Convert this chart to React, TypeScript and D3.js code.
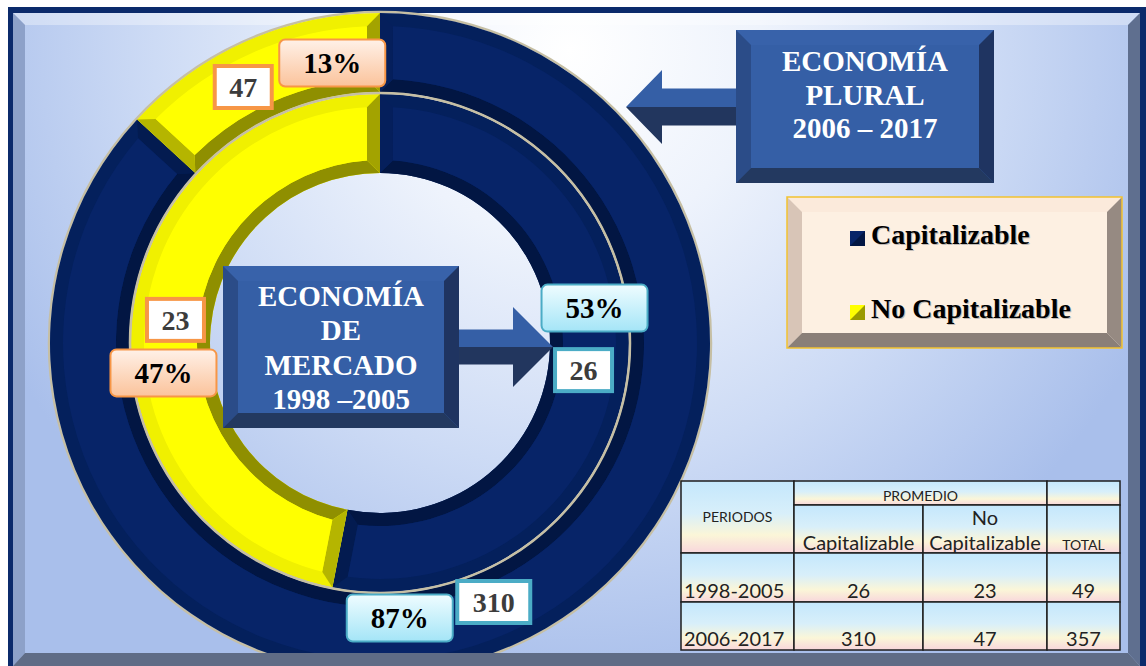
import React from "react";
import * as d3 from "d3";

// data
const periods = ["1998-2005", "2006-2017"];
const categories = ["Capitalizable", "No Capitalizable"];
const capitalizable = [26, 310];
const noCapitalizable = [23, 47];
const periodTitles = [
  ["ECONOMÍA", "DE", "MERCADO", "1998 –2005"],
  ["ECONOMÍA", "PLURAL", "2006 – 2017"],
];
const tableHead = ["PERIODOS", "PROMEDIO", "TOTAL"];

const W = 1146;
const H = 666;
const cx = 380;
const cy = 343;
// ring radii, inner ring = first period
const rings = [
  { r0: 170, r1: 249 },
  { r0: 251, r1: 330 },
];
const BEV = 13;

const palettes = [
  { face: "#072468", outer: "#04205c", inner: "#021643", start: "#051f5c", end: "#031b50", stroke: "#4bacc6" },
  { face: "#ffff00", outer: "#f0f000", inner: "#8f8f00", start: "#b5b500", end: "#a3a300", stroke: "#f79646" },
];

// label layout: [period][category] nudges for value box, offset of pct box from value box
const valueNudge = [
  [[-5, 7], [4, -3]],
  [[-3, -7], [-20, 10]],
];
const pctOffset = [
  [[11, -62], [-12, 53]],
  [[-94, 16], [89, -24]],
];

const pt = (r: number, a: number): [number, number] => [
  cx + r * Math.sin(a),
  cy - r * Math.cos(a),
];
const sa = (a: number) => a - Math.PI / 2;

function band(ro: number, ri: number, bo0: number, bo1: number, bi0: number, bi1: number) {
  // ring sector with separate angles on the outer and inner arc
  const p = d3.path();
  p.moveTo(...pt(ro, bo0));
  p.arc(cx, cy, ro, sa(bo0), sa(bo1), false);
  p.lineTo(...pt(ri, bi1));
  p.arc(cx, cy, ri, sa(bi1), sa(bi0), true);
  p.closePath();
  return p.toString();
}

function ringPieces(a0: number, a1: number, r0: number, r1: number, b: number) {
  const ro = r1 - b;
  const ri = r0 + b;
  const ao0 = a0 + b / ro, ao1 = a1 - b / ro;
  const ai0 = a0 + b / ri, ai1 = a1 - b / ri;
  const poly = (ps: [number, number][]) => "M" + ps.map((p) => p.join(",")).join("L") + "Z";
  return {
    full: band(r1, r0, a0, a1, a0, a1),
    inner: band(r0, ri, a0, a1, ai0, ai1),
    start: poly([pt(r0, a0), pt(r1, a0), pt(ro, ao0), pt(ri, ai0)]),
    end: poly([pt(r0, a1), pt(r1, a1), pt(ro, ao1), pt(ri, ai1)]),
    face: band(ro, ri, ao0, ao1, ai0, ai1),
  };
}

type BevelColors = { face: string; top: string; left: string; right: string; bottom: string };

const BevelBox: React.FC<{ x: number; y: number; w: number; h: number; b: number; c: BevelColors; stroke?: string }> = ({
  x, y, w, h, b, c, stroke,
}) => {
  const x2 = x + w, y2 = y + h;
  const poly = (ps: number[][]) => ps.map((p) => p.join(",")).join(" ");
  return (
    <g>
      <rect x={x} y={y} width={w} height={h} fill={c.face} />
      <polygon points={poly([[x, y], [x2, y], [x2 - b, y + b], [x + b, y + b]])} fill={c.top} />
      <polygon points={poly([[x, y], [x + b, y + b], [x + b, y2 - b], [x, y2]])} fill={c.left} />
      <polygon points={poly([[x2, y], [x2, y2], [x2 - b, y2 - b], [x2 - b, y + b]])} fill={c.right} />
      <polygon points={poly([[x, y2], [x + b, y2 - b], [x2 - b, y2 - b], [x2, y2]])} fill={c.bottom} />
      {stroke && <rect x={x} y={y} width={w} height={h} fill="none" stroke={stroke} strokeWidth={1.5} />}
    </g>
  );
};

const blueBox: BevelColors = { face: "#355fa6", top: "#3862aa", left: "#2b4c88", right: "#1f3461", bottom: "#233960" };
const serif = "'Liberation Serif', 'Times New Roman', serif";

const App: React.FC = () => {
  const pie = d3.pie<number>().sort(null).value((d) => d);
  const series = periods.map((_, i) => [capitalizable[i], noCapitalizable[i]]);
  const totals = series.map((s) => d3.sum(s));

  // table layout
  const tx = [681, 794, 923, 1047, 1120];
  const ty = [481, 505, 553, 602, 650];
  const tFont = "Lato, 'Open Sans', sans-serif";

  const leftArrow = (() => {
    const tip = 626, base = 662, end = 740, my = 107, sh = 18.5, hh = 37;
    return {
      top: `${tip},${my} ${base},${my - hh} ${base},${my - sh} ${end},${my - sh} ${end},${my}`,
      bottom: `${tip},${my} ${base},${my + hh} ${base},${my + sh} ${end},${my + sh} ${end},${my}`,
    };
  })();
  const rightArrow = (() => {
    const tip = 553, base = 513, st = 455, my = 347, sh = 17.5, hh = 40;
    return {
      top: `${tip},${my} ${base},${my - hh} ${base},${my - sh} ${st},${my - sh} ${st},${my}`,
      bottom: `${tip},${my} ${base},${my + hh} ${base},${my + sh} ${st},${my + sh} ${st},${my}`,
    };
  })();

  return (
    <svg width={W} height={H} style={{ position: "absolute", left: 0, top: 0 }}>
      <defs>
        <radialGradient id="bg" gradientUnits="userSpaceOnUse" cx={570} cy={50} r={640}>
          <stop offset="0" stopColor="#ffffff" />
          <stop offset="0.3" stopColor="#eef3fc" />
          <stop offset="0.65" stopColor="#cddbf5" />
          <stop offset="1" stopColor="#a9bfeb" />
        </radialGradient>
        <linearGradient id="pctOrange" x1="0" y1="0" x2="0" y2="1">
          <stop offset="0" stopColor="#fff1e8" />
          <stop offset="1" stopColor="#fbc39b" />
        </linearGradient>
        <linearGradient id="pctCyan" x1="0" y1="0" x2="0" y2="1">
          <stop offset="0" stopColor="#effcff" />
          <stop offset="1" stopColor="#a4e5f7" />
        </linearGradient>
        <linearGradient id="cell" x1="0" y1="0" x2="0" y2="1">
          <stop offset="0" stopColor="#c4e7fc" />
          <stop offset="0.45" stopColor="#d8effa" />
          <stop offset="0.75" stopColor="#fbf6d8" />
          <stop offset="1" stopColor="#f8d6dc" />
        </linearGradient>
      </defs>

      {/* frame */}
      <rect x={8} y={7} width={W - 8} height={H - 7} fill="#0b2a6b" />
      <rect x={13} y={13} width={1127} height={H - 13} fill="url(#bg)" />
      <polygon points="13,13 1140,13 1128,25 25,25" fill="#ffffff" opacity={0.35} />
      <polygon points="13,13 25,25 25,653 13,666" fill="#8da1c9" />
      <polygon points="1140,13 1140,666 1128,653 1128,25" fill="#5f6f8f" />

      {/* rings */}
      <circle cx={cx} cy={cy} r={331} fill="none" stroke="#c6bfa4" strokeWidth={2.5} />
      {series.map((vals, i) => {
        const { r0, r1 } = rings[i];
        return (
          <g key={periods[i]}>
            {pie(vals).map((s, j) => {
              const p = ringPieces(s.startAngle, s.endAngle, r0, r1, BEV);
              const c = palettes[j];
              return (
                <g key={categories[j]}>
                  <path d={p.full} fill={c.outer} />
                  <path d={p.inner} fill={c.inner} />
                  <path d={p.start} fill={c.start} />
                  <path d={p.end} fill={c.end} />
                  <path d={p.face} fill={c.face} />
                </g>
              );
            })}
          </g>
        );
      })}
      <circle cx={cx} cy={cy} r={250} fill="none" stroke="#c6bfa4" strokeWidth={2.5} />

      {/* period titles + arrows */}
      <polygon points={rightArrow.top} fill="#355fa6" />
      <polygon points={rightArrow.bottom} fill="#22365e" />
      <BevelBox x={223} y={266} w={236} h={162} b={15} c={blueBox} />
      {periodTitles[0].map((t, k) => (
        <text key={k} x={341} y={306 + k * 34.3} textAnchor="middle" fill="#fff" fontFamily={serif} fontWeight="bold" fontSize={29}>
          {t}
        </text>
      ))}
      <polygon points={leftArrow.top} fill="#355fa6" />
      <polygon points={leftArrow.bottom} fill="#22365e" />
      <BevelBox x={736} y={30} w={258} h={153} b={15} c={blueBox} />
      {periodTitles[1].map((t, k) => (
        <text key={k} x={865} y={71 + k * 33.5} textAnchor="middle" fill="#fff" fontFamily={serif} fontWeight="bold" fontSize={29}>
          {t}
        </text>
      ))}

      {/* slice labels */}
      {series.map((vals, i) => {
        const { r0, r1 } = rings[i];
        const arc = d3.arc<d3.PieArcDatum<number>>().innerRadius(r0).outerRadius(r1);
        return pie(vals).map((s, j) => {
          const [x0, y0] = arc.centroid(s);
          const vx = cx + x0 + valueNudge[i][j][0];
          const vy = cy + y0 + valueNudge[i][j][1];
          const px = vx + pctOffset[i][j][0];
          const py = vy + pctOffset[i][j][1];
          const vTxt = String(vals[j]);
          const vw = vTxt.length * 16 + 25;
          const pTxt = `${Math.round((vals[j] / totals[i]) * 100)}%`;
          const pw = 106;
          const stroke = palettes[j].stroke;
          return (
            <g key={`${i}-${j}`}>
              <rect x={px - pw / 2} y={py - 23.5} width={pw} height={47} rx={6} fill={j === 0 ? "url(#pctCyan)" : "url(#pctOrange)"} stroke={stroke} strokeWidth={2} />
              <text x={px} y={py + 10} textAnchor="middle" fontFamily={serif} fontWeight="bold" fontSize={29} fill="#000">
                {pTxt}
              </text>
              <rect x={vx - vw / 2} y={vy - 21} width={vw} height={42} fill="#fff" stroke={stroke} strokeWidth={4} />
              <text x={vx} y={vy + 10} textAnchor="middle" fontFamily={serif} fontWeight="bold" fontSize={28} fill="#3c3c3c">
                {vTxt}
              </text>
            </g>
          );
        });
      })}

      {/* legend */}
      <BevelBox
        x={787}
        y={197}
        w={335}
        h={151}
        b={15}
        c={{ face: "#fdf0e2", top: "#fbeadb", left: "#d8c5b7", right: "#968a82", bottom: "#8a7f78" }}
        stroke="#f2c230"
      />
      {categories.map((cat, j) => {
        const y = 244 + j * 74;
        const c = palettes[j];
        return (
          <g key={cat}>
            <rect x={850} y={y - 13} width={15} height={15} fill={c.face} />
            <polygon points={`${865},${y - 13} ${865},${y + 2} ${850},${y + 2}`} fill={j === 0 ? "#021643" : "#9a9a00"} />
            <text x={872} y={y + 1} fontFamily={serif} fontWeight="bold" fontSize={28} fill="#999" opacity={0.6}>
              {cat}
            </text>
            <text x={871} y={y} fontFamily={serif} fontWeight="bold" fontSize={28} fill="#000">
              {cat}
            </text>
          </g>
        );
      })}

      {/* table */}
      <g fontFamily={tFont} fill="#222">
        {[
          [0, 0, 1, 2],
          [1, 0, 3, 1],
          [3, 0, 4, 1],
          [1, 1, 2, 2],
          [2, 1, 3, 2],
          [3, 1, 4, 2],
          ...[2, 3].flatMap((r) => [0, 1, 2, 3].map((c) => [c, r, c + 1, r + 1])),
        ].map(([c0, r0, c1, r1], k) => (
          <rect key={k} x={tx[c0]} y={ty[r0]} width={tx[c1] - tx[c0]} height={ty[r1] - ty[r0]} fill="url(#cell)" stroke="#1e1e1e" strokeWidth={1.5} />
        ))}
        <text x={(tx[0] + tx[1]) / 2} y={522} textAnchor="middle" fontSize={14}>{tableHead[0]}</text>
        <text x={(tx[1] + tx[3]) / 2} y={501} textAnchor="middle" fontSize={14}>{tableHead[1]}</text>
        <text x={(tx[3] + tx[4]) / 2} y={550} textAnchor="middle" fontSize={14}>{tableHead[2]}</text>
        <text x={(tx[1] + tx[2]) / 2} y={550} textAnchor="middle" fontSize={20}>{categories[0]}</text>
        <text x={(tx[2] + tx[3]) / 2} y={525} textAnchor="middle" fontSize={20}>{categories[1].split(" ")[0]}</text>
        <text x={(tx[2] + tx[3]) / 2} y={550} textAnchor="middle" fontSize={20}>{categories[1].split(" ")[1]}</text>
        {periods.map((p, i) => {
          const y = 598 + i * 48;
          return (
            <g key={p}>
              <text x={tx[0] + 3} y={y} fontSize={20}>{p}</text>
              <text x={(tx[1] + tx[2]) / 2} y={y} textAnchor="middle" fontSize={20}>{capitalizable[i]}</text>
              <text x={(tx[2] + tx[3]) / 2} y={y} textAnchor="middle" fontSize={20}>{noCapitalizable[i]}</text>
              <text x={(tx[3] + tx[4]) / 2} y={y} textAnchor="middle" fontSize={20}>{totals[i]}</text>
            </g>
          );
        })}
      </g>

      {/* bottom frame bevel over the ring */}
      <polygon points="13,666 25,653 1128,653 1140,666" fill="#5f6c86" />
    </svg>
  );
};

export default App;
